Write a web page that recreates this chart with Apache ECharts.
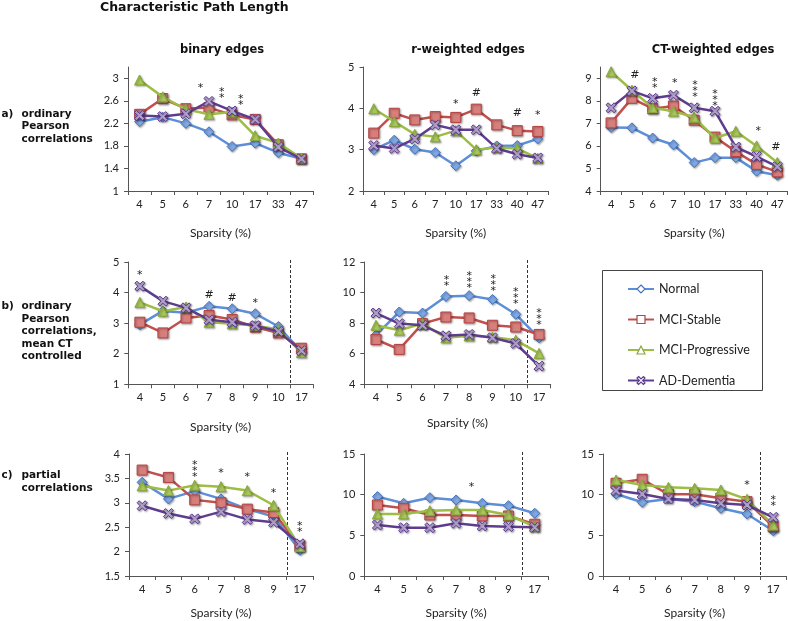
<!DOCTYPE html>
<html><head><meta charset="utf-8">
<script src="https://cdn.jsdelivr.net/npm/echarts@6/dist/echarts.min.js"></script>
<style>html,body{margin:0;padding:0;background:#fff}#c{width:788px;height:621px}</style>
</head><body><div id="c"></div><script>
const seriesNames = ['Normal','MCI-Stable','MCI-Progressive','AD-Dementia'];
const catsA1 = ['4','5','6','7','10','17','33','47'];
const catsA23 = ['4','5','6','7','10','17','33','40','47'];
const catsB = ['4','5','6','7','8','9','10','17'];
const catsC = ['4','5','6','7','8','9','17'];

// a) ordinary Pearson correlations
const a1Normal = [2.23,2.31,2.20,2.05,1.79,1.85,1.68,1.57];
const a1Stable = [2.36,2.64,2.46,2.48,2.35,2.27,1.82,1.57];
const a1Prog   = [2.97,2.67,2.45,2.36,2.40,1.98,1.85,1.58];
const a1AD     = [2.34,2.32,2.37,2.59,2.42,2.27,1.78,1.57];

const a2Normal = [3.00,3.23,3.01,2.93,2.61,2.97,3.09,3.10,3.26];
const a2Stable = [3.40,3.88,3.72,3.80,3.78,3.98,3.60,3.46,3.44];
const a2Prog   = [3.99,3.68,3.37,3.31,3.46,3.00,3.05,3.03,2.79];
const a2AD     = [3.10,3.03,3.26,3.60,3.48,3.48,3.03,2.89,2.80];

const a3Normal = [6.82,6.80,6.35,6.05,5.26,5.48,5.48,4.88,4.70];
const a3Stable = [7.02,8.11,7.65,7.77,7.14,6.39,5.75,5.18,4.85];
const a3Prog   = [9.29,8.47,7.69,7.54,7.27,6.35,6.65,6.00,5.26];
const a3AD     = [7.69,8.44,8.11,8.25,7.69,7.54,5.95,5.53,5.08];

// b) mean CT controlled
const b1Normal = [2.95,3.40,3.34,3.55,3.47,3.31,2.89,2.07];
const b1Stable = [3.03,2.68,3.17,3.25,3.12,2.87,2.68,2.18];
const b1Prog   = [3.68,3.39,3.53,3.03,2.98,2.92,2.79,2.04];
const b1AD     = [4.21,3.72,3.50,3.11,3.03,2.92,2.73,2.10];

const b2Normal = [7.21,8.73,8.66,9.75,9.80,9.55,8.58,7.04];
const b2Stable = [6.93,6.28,7.97,8.40,8.34,7.86,7.75,7.26];
const b2Prog   = [7.86,7.54,7.97,7.04,7.17,7.10,6.89,6.02];
const b2AD     = [8.66,7.97,7.86,7.17,7.26,7.04,6.67,5.19];

// c) partial correlations
const c1Normal = [3.42,3.08,3.24,3.08,2.87,2.72,2.03];
const c1Stable = [3.67,3.52,3.06,3.00,2.87,2.80,2.11];
const c1Prog   = [3.35,3.25,3.36,3.33,3.25,2.95,2.10];
const c1AD     = [2.94,2.78,2.67,2.82,2.66,2.60,2.16];

const c2Normal = [9.76,8.94,9.63,9.35,8.94,8.65,7.71];
const c2Stable = [8.73,8.32,7.50,7.50,7.38,7.38,6.36];
const c2Prog   = [7.63,7.63,8.03,8.12,8.12,7.50,6.07];
const c2AD     = [6.27,5.94,5.94,6.48,6.15,6.07,5.99];

const c3Normal = [10.08,9.06,9.47,9.14,8.32,7.63,5.57];
const c3Stable = [11.40,11.89,10.04,10.04,9.55,9.14,6.07];
const c3Prog   = [11.80,11.19,10.90,10.78,10.58,9.43,6.27];
const c3AD     = [10.50,10.08,9.47,9.35,8.94,8.73,7.22];

// significance marks: [category position, value, text]
const a1Notes = [[2.64,2.875,'*'],[3.55,2.76,'**'],[4.38,2.63,'**']];
const a2Notes = [[4,4.18,'*'],[5,4.39,'#'],[7,3.9,'#'],[8,3.9,'*']];
const a3Notes = [[1.15,9.14,'#'],[2.1,8.82,'**'],[3.06,8.93,'*'],[4.04,8.58,'***'],[5,8.16,'***'],[7.08,6.8,'*'],[7.93,5.95,'#']];
const b1Notes = [[0,4.66,'*'],[3,3.92,'#'],[4,3.85,'#'],[5,3.75,'*']];
const b2Notes = [[3.03,10.83,'**'],[4,10.86,'***'],[5.03,10.7,'***'],[6,9.82,'***'],[7,8.48,'***']];
const c1Notes = [[2,3.71,'***'],[3,3.66,'*'],[4,3.59,'*'],[5,3.26,'*'],[6,2.53,'**']];
const c2Notes = [[3.59,11.28,'*']];
const c3Notes = [[5,11.48,'*'],[6,9.31,'**']];

const panels = [
  {box:[128,67,185,124], cats:catsA1, data:[a1Normal,a1Stable,a1Prog,a1AD], y:[1,3.2,0.4], hideMax:true, dashed:false, notes:a1Notes, nameGap:36},
  {box:[363.5,67,184.5,124], cats:catsA23, data:[a2Normal,a2Stable,a2Prog,a2AD], y:[2,5,1], hideMax:false, dashed:false, notes:a2Notes, nameGap:36},
  {box:[600.7,67,187,124], cats:catsA23, data:[a3Normal,a3Stable,a3Prog,a3AD], y:[4,9.5,1], hideMax:true, dashed:false, notes:a3Notes, nameGap:36},
  {box:[128.3,262,184.7,122.3], cats:catsB, data:[b1Normal,b1Stable,b1Prog,b1AD], y:[1,5,1], hideMax:false, dashed:true, notes:b1Notes, nameGap:36.5},
  {box:[364.3,262,186.4,122.3], cats:catsB, data:[b2Normal,b2Stable,b2Prog,b2AD], y:[4,12,2], hideMax:false, dashed:true, notes:b2Notes, nameGap:32.5},
  {box:[129,454,184,122], cats:catsC, data:[c1Normal,c1Stable,c1Prog,c1AD], y:[1.5,4,0.5], hideMax:false, dashed:true, notes:c1Notes, nameGap:31.5},
  {box:[364.3,454,183.5,122], cats:catsC, data:[c2Normal,c2Stable,c2Prog,c2AD], y:[0,15,5], hideMax:false, dashed:true, notes:c2Notes, nameGap:31.5},
  {box:[602.9,454,183.4,122], cats:catsC, data:[c3Normal,c3Stable,c3Prog,c3AD], y:[0,15,5], hideMax:false, dashed:true, notes:c3Notes, nameGap:31}
];

const lineColors = ['#5d8fd8','#c0504d','#9dbd45','#5f3d8e'];
const fillColors = ['#7ea7e4','#d87f7c','#a9c85a','#b8a8d4'];
const borderColors = ['#4676c0','#b54442','#88a83a','#5f3d8e'];
const xPath = 'path://M2,0 L5,3 L8,0 L10,2 L7,5 L10,8 L8,10 L5,7 L2,10 L0,8 L3,5 L0,2 Z';
const symbols = ['diamond','rect','triangle',xPath];
const symbolSizes = [10,10,10,10];

const axisColor = '#555';
const tickFont = 'Lato';

const grid = [], xAxis = [], yAxis = [], series = [];
panels.forEach((p, i) => {
  grid.push({left:p.box[0], top:p.box[1], width:p.box[2], height:p.box[3], outerBoundsMode:'none', containLabel:false});
  xAxis.push({type:'category', gridIndex:i, data:p.cats, boundaryGap:true,
    name:'Sparsity (%)', nameLocation:'middle', nameGap:p.nameGap,
    nameTextStyle:{fontFamily:tickFont, fontSize:12, color:'#222'},
    axisLine:{lineStyle:{color:axisColor, width:1}},
    axisTick:{show:true, alignWithLabel:false, length:4, lineStyle:{color:axisColor}},
    axisLabel:{fontFamily:tickFont, fontSize:11, color:'#222', margin:8, interval:0},
    splitLine:{show:false}});
  yAxis.push({type:'value', gridIndex:i, min:p.y[0], max:p.y[1], interval:p.y[2],
    axisLine:{show:true, lineStyle:{color:axisColor, width:1}},
    axisTick:{show:true, length:4, lineStyle:{color:axisColor}},
    axisLabel:{fontFamily:tickFont, fontSize:11, color:'#222', margin:9, showMaxLabel: !p.hideMax},
    splitLine:{show:false}});
  p.data.forEach((d, s) => {
    series.push({type:'line', name:seriesNames[s], xAxisIndex:i, yAxisIndex:i, data:d,
      symbol:symbols[s], symbolSize:symbolSizes[s], showAllSymbol:true,
      lineStyle:{color:lineColors[s], width:2.5},
      itemStyle:{color:fillColors[s], borderColor:borderColors[s], borderWidth:1,
        shadowColor:'rgba(0,0,0,0.35)', shadowBlur:2, shadowOffsetX:1, shadowOffsetY:1},
      emphasis:{disabled:true}, z:2+s});
  });
});

const chart = echarts.init(document.getElementById('c'), null, {renderer:'canvas'});
chart.setOption({
  animation:false,
  backgroundColor:'#fff',
  grid, xAxis, yAxis, series,
  legend:{orient:'vertical', left:622, top:277, itemWidth:26, itemHeight:10, itemGap:16.5,
    selectedMode:false,
    textStyle:{fontFamily:tickFont, fontSize:12.5, color:'#222', lineHeight:14},
    data: seriesNames.map((n, s) => ({name:n, itemStyle:{color:'#fff', borderColor:borderColors[s], borderWidth:1.2, shadowBlur:0, shadowOffsetX:0, shadowOffsetY:0}}))}
});

function px(i, x, y) {
  const f = Math.floor(x), c = Math.ceil(x);
  const p1 = chart.convertToPixel({gridIndex:i}, [f, y]);
  if (f === c) return p1;
  const p2 = chart.convertToPixel({gridIndex:i}, [c, y]);
  const t = x - f;
  return [p1[0] + (p2[0]-p1[0])*t, p1[1]];
}

const g = [];
const hdrFont = 'bold 12.5px "DejaVu Sans"';
g.push({type:'text', x:100, y:8, style:{text:'Characteristic Path Length', font:hdrFont, fill:'#111', align:'left', verticalAlign:'middle', textAlign:'left', textVerticalAlign:'middle'}});
const colHeaders = ['binary edges','r-weighted edges','CT-weighted edges'];
const colCenters = [222, 468, 713];
[0,1,2].forEach(k => {
  g.push({type:'text', x:colCenters[k], y:50, style:{text:colHeaders[k], font:'bold 11.5px "DejaVu Sans"', fill:'#111', align:'center', verticalAlign:'middle', textAlign:'center', textVerticalAlign:'middle'}});
});
const rowLabels = [
  ['a)', 'ordinary\nPearson\ncorrelations', 108],
  ['b)', 'ordinary\nPearson\ncorrelations,\nmean CT\ncontrolled', 300.5],
  ['c)', 'partial\ncorrelations', 469.5]
];
rowLabels.forEach(r => {
  g.push({type:'text', x:1.5, y:r[2], style:{text:r[0], font:'bold 10.5px "DejaVu Sans"', fill:'#111', lineHeight:12.5, align:'left', verticalAlign:'top', textAlign:'left', textVerticalAlign:'top'}});
  g.push({type:'text', x:21.5, y:r[2], style:{text:r[1], font:'bold 10.5px "DejaVu Sans"', fill:'#111', lineHeight:12.5, align:'left', verticalAlign:'top', textAlign:'left', textVerticalAlign:'top'}});
});
// legend frame
g.push({type:'rect', shape:{x:602.5, y:270.5, width:160, height:120}, style:{fill:'none', stroke:'#444', lineWidth:1}, z:-1});

panels.forEach((p, i) => {
  if (p.dashed) {
    const n = p.cats.length;
    const a = chart.convertToPixel({gridIndex:i}, [n-2, p.y[1]]);
    const b = chart.convertToPixel({gridIndex:i}, [n-1, p.y[0]]);
    const xm = Math.round((a[0]+b[0])/2) + 0.5;
    g.push({type:'line', shape:{x1:xm, y1:a[1]-2, x2:xm, y2:b[1]}, style:{stroke:'#333', lineWidth:1, lineDash:[3,2]}, z:1});
  }
  p.notes.forEach(nt => {
    const q = px(i, nt[0], nt[1]);
    const txt = nt[2].split('').join('\n');
    const isStar = nt[2][0] === '*';
    g.push({type:'text', x:q[0], y:q[1] + (isStar ? 3 : 0.5), z:10,
      style:{text:txt, font:'11px "DejaVu Sans"', fill:'#222', lineHeight:isStar?6:11,
        align:'center', verticalAlign:'middle', textAlign:'center', textVerticalAlign:'middle'}});
  });
});
chart.setOption({graphic:g});
</script></body></html>
